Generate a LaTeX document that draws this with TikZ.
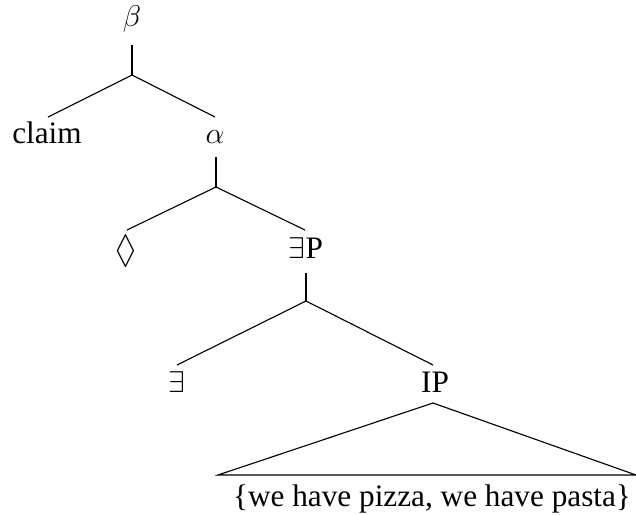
\documentclass[tikz,border=0pt]{standalone}
\usepackage{amsmath,amssymb}
\usepackage{fontspec}
\setmainfont{Liberation Serif}
\usetikzlibrary{positioning}
\tikzset{
  lbl/.style={anchor=base, inner sep=0pt, font=\fontsize{12.5}{15}\selectfont},
  branch/.style={line width=0.45pt}
}

\begin{document}
\begin{tikzpicture}[x=0.4pt, y=-0.4pt]
        \useasboundingbox (0,0) rectangle (636,515);
        % labels
        \node[lbl] (beta) at (132,26) {$\beta$};
        \node[lbl] (claim) at (47,143) {claim};
        \node[lbl] (alpha) at (215,143) {$\alpha$};
        \node[lbl] (poss) at (126,262) {\scalebox{1}[1.25]{$\Diamond$}};
        \node[lbl] (existP) at (306,258) {$\exists$P};
        \node[lbl] (exist) at (177,392) {$\exists$};
        \node[lbl] (ip) at (435,392) {IP};
        \node[lbl] (alts) at (432,506) {\{we have pizza, we have pasta\}};
        % stubs, forks and branch ends
        \coordinate (beta-top) at (132,45);   \coordinate (beta-fork) at (132,75);
        \coordinate (claim-end) at (48,117);  \coordinate (alpha-end) at (215,117);
        \coordinate (alpha-top) at (216,157); \coordinate (alpha-fork) at (216,187);
        \coordinate (poss-end) at (127,230);  \coordinate (existP-end) at (305,230);
        \coordinate (existP-top) at (306,273);\coordinate (existP-fork) at (306,301);
        \coordinate (exist-end) at (177,365); \coordinate (ip-end) at (433,365);
        \coordinate (ip-top) at (433,403);
        \coordinate (tri-left) at (218,475);  \coordinate (tri-right) at (636,475);
        % branches
        \draw[branch] (beta-top) -- (beta-fork);
        \draw[branch] (claim-end) -- (beta-fork) -- (alpha-end);
        \draw[branch] (alpha-top) -- (alpha-fork);
        \draw[branch] (poss-end) -- (alpha-fork) -- (existP-end);
        \draw[branch] (existP-top) -- (existP-fork);
        \draw[branch] (exist-end) -- (existP-fork) -- (ip-end);
        \draw[branch] (ip-top) -- (tri-left) -- (tri-right) -- cycle;
      \end{tikzpicture}
\end{document}
